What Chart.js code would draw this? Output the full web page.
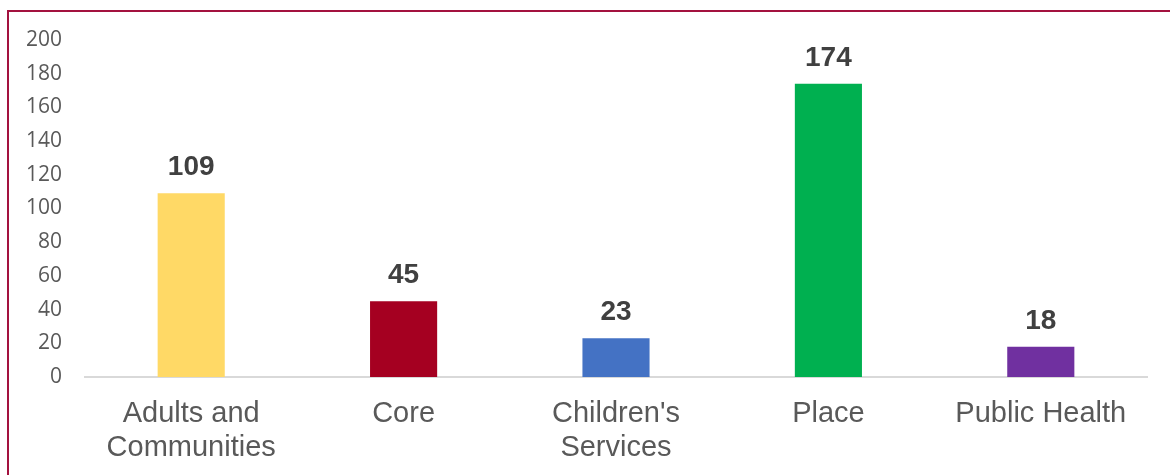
<!DOCTYPE html>
<html>
<head>
<meta charset="utf-8">
<script src="https://cdn.jsdelivr.net/npm/chart.js@4/dist/chart.umd.min.js"></script>
<style>
  html, body { margin: 0; padding: 0; background: #fff; }
  #wrap { position: relative; width: 1170px; height: 475px; overflow: hidden; }
  #frame {
    position: absolute; left: 7px; top: 10px; width: 1200px; height: 500px;
    border-top: 2px solid #a3123f; border-left: 2px solid #a3123f;
    pointer-events: none;
  }
  canvas { position: absolute; left: 0; top: 0; }
</style>
</head>
<body>
<div id="wrap">
  <canvas id="chart" width="1170" height="475"></canvas>
  <div id="frame"></div>
</div>
<script>
const categories = [['Adults and', 'Communities'], 'Core', ["Children's", 'Services'], 'Place', 'Public Health'];
const counts = [109, 45, 23, 174, 18];
const barColors = ['#ffd966', '#a50021', '#4472c4', '#00b050', '#7030a0'];
const yTicks = [0, 20, 40, 60, 80, 100, 120, 140, 160, 180, 200];

// writes each bar's value above it
const valueLabels = {
    id: 'valueLabels',
    afterDatasetsDraw(chart) {
        const ctx = chart.ctx;
        const meta = chart.getDatasetMeta(0);
        ctx.save();
        ctx.font = 'bold 28px "Liberation Sans", Arial, sans-serif';
        ctx.fillStyle = '#404040';
        ctx.textAlign = 'center';
        ctx.textBaseline = 'alphabetic';
        meta.data.forEach((bar, i) => {
            ctx.fillText(String(chart.data.datasets[0].data[i]), bar.x, bar.y - 18);
        });
        ctx.restore();
    }
};

new Chart(document.getElementById('chart'), {
    type: 'bar',
    data: {
        labels: categories,
        datasets: [{
            data: counts,
            backgroundColor: barColors,
            barPercentage: 0.316,
            categoryPercentage: 1
        }]
    },
    options: {
        responsive: false,
        animation: false,
        layout: { padding: { top: 40, right: 23, left: 0, bottom: 0 } },
        plugins: {
            legend: { display: false },
            tooltip: { enabled: false }
        },
        scales: {
            x: {
                grid: { display: false, drawTicks: false },
                border: { display: true, color: '#d9d9d9', width: 2 },
                ticks: {
                    color: '#595959',
                    padding: 20,
                    maxRotation: 0,
                    autoSkip: false,
                    font: { family: '"Liberation Sans", Arial, sans-serif', size: 29, lineHeight: 34 / 29 }
                },
                afterFit(scale) { scale.height = 98; }
            },
            y: {
                min: 0,
                max: 200,
                afterBuildTicks(scale) { scale.ticks = yTicks.map(v => ({ value: v })); },
                grid: { display: false, drawTicks: false },
                border: { display: false },
                ticks: {
                    color: '#595959',
                    padding: 23,
                    font: { family: '"Open Sans", sans-serif', size: 21 }
                },
                afterFit(scale) { scale.width = 85; }
            }
        }
    },
    plugins: [valueLabels]
});
</script>
</body>
</html>
